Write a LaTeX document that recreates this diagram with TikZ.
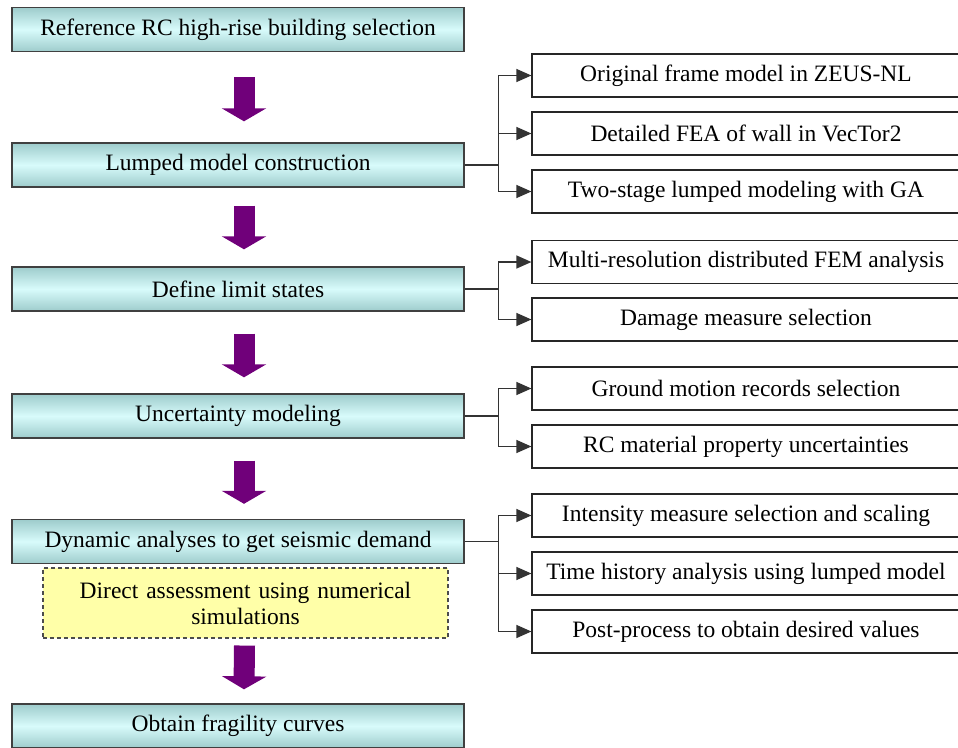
\documentclass[tikz,border=0pt]{standalone}
\usepackage{fontspec}
\setmainfont{Liberation Serif}
\usetikzlibrary{arrows.meta,calc}
\definecolor{stageedge}{RGB}{158,204,204}
\definecolor{stagemid}{RGB}{216,251,251}
\definecolor{flowpurple}{RGB}{112,0,122}
\definecolor{notefill}{RGB}{255,255,168}
\tikzset{
  stage/.style={draw=black!75, line width=1.4pt, top color=stageedge,
    bottom color=stageedge, middle color=stagemid,
    minimum width=452pt, minimum height=44pt, inner sep=0pt},
  sub/.style={draw=black!85, line width=1.2pt, fill=white,
    minimum width=428pt, minimum height=43pt, inner sep=0pt},
  note/.style={draw=black!70, dash pattern=on 4pt off 3pt, line width=1.1pt,
    fill=notefill, minimum width=405pt, minimum height=70pt, inner sep=0pt,
    align=center, text width=395pt},
  flow/.style={flowpurple, line width=21pt, -{Triangle[length=13pt,width=44pt]}},
  pin/.style={black!80, line width=1.3pt, -{Triangle[length=15pt,width=13pt]}},
  link/.style={black!80, line width=1.3pt}
}

\begin{document}
\begin{tikzpicture}[x=1pt,y=-1pt,font=\fontsize{23.5}{26}\selectfont]
  \useasboundingbox (0,0) rectangle (958,747);
  % main stages (left column)
  \node[stage] (sel)  at (238,29.5)  {Reference RC high-rise building selection};
  \node[stage] (lump) at (238,165)   {Lumped model construction};
  \node[stage] (lim)  at (238,289)   {Define limit states};
  \node[stage] (unc)  at (238,416)   {Uncertainty modeling};
  \node[stage] (dyn)  at (238,541.5) {Dynamic analyses to get seismic demand};
  \node[note]  (direct) at (245.5,603) {Direct assessment using numerical\\simulations};
  \node[stage] (frag) at (238,726)   {Obtain fragility curves};
  % sub tasks (right column)
  \node[sub] (zeus)   at (746,75.5)  {Original frame model in ZEUS-NL};
  \node[sub] (vector) at (746,133.5) {Detailed FEA of wall in VecTor2};
  \node[sub] (ga)     at (746,191.5) {Two-stage lumped modeling with GA};
  \node[sub] (fem)    at (746,262)   {Multi-resolution distributed FEM analysis};
  \node[sub] (dm)     at (746,319.5) {Damage measure selection};
  \node[sub] (gm)     at (746,388.5) {Ground motion records selection};
  \node[sub] (mat)    at (746,446.5) {RC material property uncertainties};
  \node[sub] (im)     at (746,515.5) {Intensity measure selection and scaling};
  \node[sub] (th)     at (746,573.5) {Time history analysis using lumped model};
  \node[sub] (post)   at (746,631.5) {Post-process to obtain desired values};
  % big arrows between stages
  \draw[flow] ($(sel.south)+(6,25)$)    -- ($(lump.north)+(6,-21)$);
  \draw[flow] ($(lump.south)+(6,18)$)   -- ($(lim.north)+(6,-17)$);
  \draw[flow] ($(lim.south)+(6,22)$)    -- ($(unc.north)+(6,-16)$);
  \draw[flow] ($(unc.south)+(6,22)$)    -- ($(dyn.north)+(6,-15)$);
  \draw[flow] ($(direct.south)+(-1,7)$) -- ($(frag.north)+(6,-14)$);
  % branch points
  \coordinate (b1) at ($(lump.east)+(34,0)$);
  \coordinate (b2) at ($(lim.east)+(34,0)$);
  \coordinate (b3) at ($(unc.east)+(34,0)$);
  \coordinate (b4) at ($(dyn.east)+(34,0)$);
  \draw[link] (lump.east) -- (b1);
  \draw[link] (lim.east) -- (b2);
  \draw[link] (unc.east) -- (b3);
  \draw[link] (dyn.east) -- (b4);
  \foreach \t in {zeus,vector,ga} \draw[pin] (b1) |- (\t.west);
  \foreach \t in {fem,dm} \draw[pin] (b2) |- (\t.west);
  \foreach \t in {gm,mat} \draw[pin] (b3) |- (\t.west);
  \foreach \t in {im,th,post} \draw[pin] (b4) |- (\t.west);
\end{tikzpicture}
\end{document}
